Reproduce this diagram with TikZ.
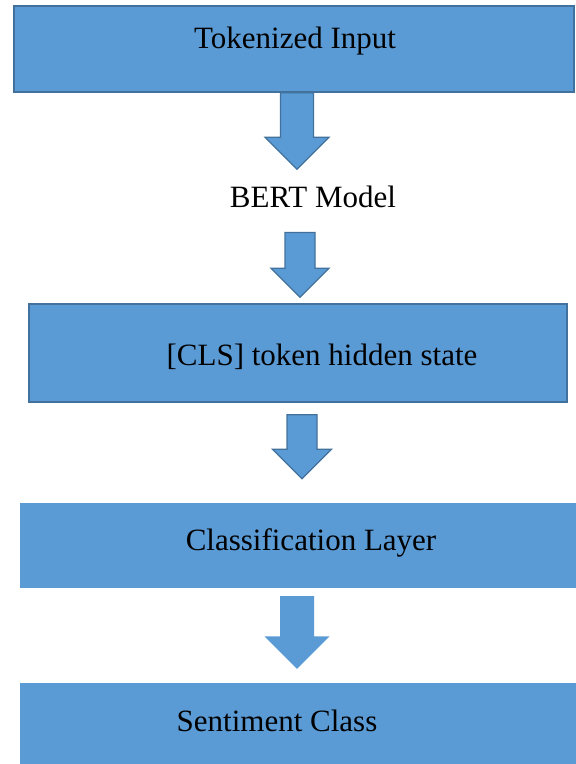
\documentclass[tikz,border=0pt]{standalone}
\usepackage{fontspec}
\setmainfont{Liberation Serif}
\usepackage{xcolor}
\usepackage{tikz}
\usetikzlibrary{calc}
\definecolor{cFill}{HTML}{5B9BD5}
\definecolor{cLine}{HTML}{41719C}
\tikzset{
  stage/.style={rectangle, draw=cLine, line width=1.5pt, fill=cFill, inner sep=0pt},
  flat/.style={rectangle, draw=none, fill=cFill, inner sep=0pt},
  caption/.style={inner sep=0pt, anchor=base, text=black, font=\fontsize{31}{37}\selectfont},
  % block arrow from start point straight down to the target's height
  fat/.style 2 args={fill=cFill, draw=cLine, line width=1.2pt, line join=miter,
    to path={let \p1=(\tikztostart), \p2=(\tikztotarget) in
      (\x1-#1,\y1) -- (\x1+#1,\y1) -- (\x1+#1,\y2+#2) -- (\x1+#2,\y2+#2) --
      (\x1,\y2) -- (\x1-#2,\y2+#2) -- (\x1-#1,\y2+#2) -- cycle}},
}

\begin{document}
\begin{tikzpicture}[x=1pt, y=-1pt]
\useasboundingbox (0,0) rectangle (576,764);
% boxes
\node[stage, minimum width=560pt, minimum height=86pt] (tok) at (294,49) {};
\node[stage, minimum width=538pt, minimum height=98pt] (cls) at (298,353) {};
\node[flat, minimum width=556pt, minimum height=85pt] (clf) at (298,545.5) {};
\node[flat, minimum width=556pt, minimum height=81pt] (sent) at (298,723.5) {};
% texts
\node[caption] (tokT) at (295,48) {Tokenized Input};
\node[caption] (bert) at (313,207) {BERT Model};
\node[caption] (clsT) at (322,365) {[CLS] token hidden state};
\node[caption] (clfT) at (311,550) {Classification Layer};
\node[caption] (sentT) at (277,731) {Sentiment Class};
% arrows
\draw[fat={16.5pt}{32pt}] ([xshift=3pt]tok.south) to ([yshift=16pt]bert.north);
\draw[fat={15pt}{29pt}] ([xshift=-13pt, yshift=-25pt]bert.south) to ([yshift=6pt]cls.north);
\draw[fat={15pt}{29.5pt}] ([xshift=4pt, yshift=-12pt]cls.south) to ([yshift=24pt]clf.north);
\draw[fat={17pt}{32.5pt}, draw=none] ([xshift=-1pt, yshift=-8pt]clf.south) to ([yshift=14pt]sent.north);
\end{tikzpicture}
\end{document}
